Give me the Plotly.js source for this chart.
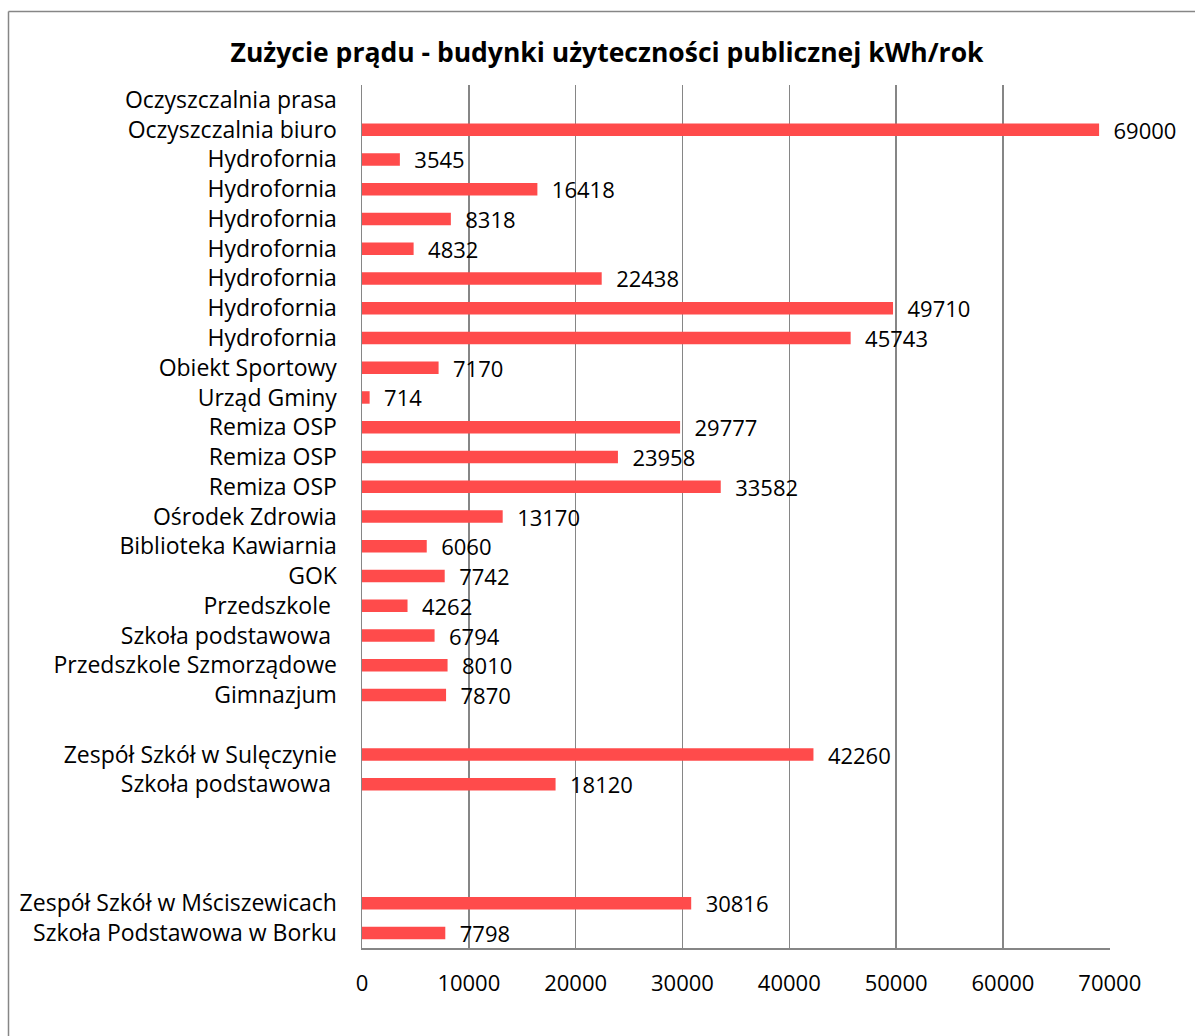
<!DOCTYPE html>
<html>
<head>
<meta charset="utf-8">
<script src="https://cdn.plot.ly/plotly-3.0.1.min.js"></script>
<style>
html,body{margin:0;padding:0;background:#fff;}
#chart{width:1195px;height:1036px;}
</style>
</head>
<body>
<div id="chart"></div>
<script>
// Categories listed bottom-to-top (as in the source spreadsheet order)
const categories = [
  "Szkoła Podstawowa w Borku",
  "Zespół Szkół w Mściszewicach",
  "", "", "",
  "Szkoła podstawowa\u00a0",
  "Zespół Szkół w Sulęczynie",
  "",
  "Gimnazjum",
  "Przedszkole Szmorządowe",
  "Szkoła podstawowa\u00a0",
  "Przedszkole\u00a0",
  "GOK",
  "Biblioteka Kawiarnia",
  "Ośrodek Zdrowia",
  "Remiza OSP",
  "Remiza OSP",
  "Remiza OSP",
  "Urząd Gminy",
  "Obiekt Sportowy",
  "Hydrofornia",
  "Hydrofornia",
  "Hydrofornia",
  "Hydrofornia",
  "Hydrofornia",
  "Hydrofornia",
  "Hydrofornia",
  "Oczyszczalnia biuro",
  "Oczyszczalnia prasa"
];
const values = [
  7798,
  30816,
  null, null, null,
  18120,
  42260,
  null,
  7870,
  8010,
  6794,
  4262,
  7742,
  6060,
  13170,
  33582,
  23958,
  29777,
  714,
  7170,
  45743,
  49710,
  22438,
  4832,
  8318,
  16418,
  3545,
  69000,
  null
];
const xTicks = [0, 10000, 20000, 30000, 40000, 50000, 60000, 70000];
const chartTitle = "Zużycie prądu - budynki użyteczności publicznej kWh/rok";

const positions = categories.map((c, i) => i);
const labels = values.map(v => v === null ? "" : "\u00a0\u00a0" + String(v));

const FONT = "'Open Sans', sans-serif";

const trace = {
  type: "bar",
  orientation: "h",
  x: values,
  y: positions,
  text: labels,
  textposition: "outside",
  constraintext: "none",
  textfont: {family: FONT, size: 22, color: "#000"},
  cliponaxis: false,
  marker: {color: "#FF4B4B"},
  hoverinfo: "x"
};

const L = 362, T = 85, R = 85, B = 88;
const pw = 1195 - L - R, ph = 1036 - T - B;
const px2x = p => (p - L) / pw;
const py2y = p => (1036 - B - p) / ph;

const layout = {
  width: 1195,
  height: 1036,
  margin: {l: L, r: R, t: T, b: B, pad: 0},
  paper_bgcolor: "#fff",
  plot_bgcolor: "#fff",
  showlegend: false,
  bargap: 0.58,
  font: {family: FONT, size: 22, color: "#000"},
  title: {
    text: "<b>" + chartTitle + "</b>",
    font: {family: FONT, size: 26.5, color: "#000"},
    x: 0.508, xanchor: "center",
    y: 0.949, yanchor: "middle"
  },
  xaxis: {
    range: [0, 70020],
    tickvals: xTicks,
    ticktext: xTicks.map(String),
    showgrid: true,
    gridcolor: "#868686",
    gridwidth: 1.5,
    zeroline: false,
    showline: true,
    linecolor: "#868686",
    linewidth: 1.5,
    ticks: "",
    ticklabelstandoff: 15,
    tickfont: {family: FONT, size: 22, color: "#000"},
    fixedrange: true
  },
  yaxis: {
    range: [-0.5, categories.length - 0.5],
    tickvals: positions,
    ticktext: categories,
    showgrid: false,
    zeroline: false,
    showline: true,
    linecolor: "#868686",
    linewidth: 1.5,
    ticks: "",
    ticklabelstandoff: 19,
    tickfont: {family: FONT, size: 23, color: "#000"},
    fixedrange: true
  },
  shapes: [
    {type: "line", xref: "paper", yref: "paper",
     x0: px2x(8.5), x1: px2x(1400), y0: py2y(11.5), y1: py2y(11.5),
     line: {color: "#868686", width: 1.5}, layer: "below"},
    {type: "line", xref: "paper", yref: "paper",
     x0: px2x(8.5), x1: px2x(8.5), y0: py2y(11.5), y1: py2y(1400),
     line: {color: "#868686", width: 1.5}, layer: "below"}
  ]
};

Plotly.newPlot("chart", [trace], layout, {displayModeBar: false, staticPlot: true});
</script>
</body>
</html>
